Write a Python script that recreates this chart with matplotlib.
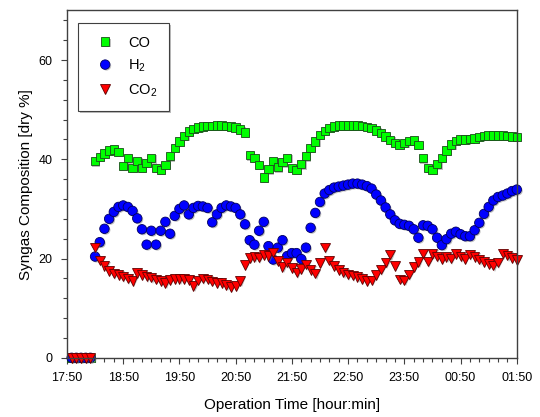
"""
Syngas composition (CO, H2, CO2) vs operation time
"""
import numpy as np
import matplotlib
matplotlib.use("Agg")
import matplotlib.pyplot as plt
import matplotlib.patheffects as pe
from matplotlib.ticker import MultipleLocator

plt.rcParams["font.family"] = ["Liberation Sans", "DejaVu Sans"]
plt.rcParams["mathtext.default"] = "regular"

# time in minutes after 17:50, one sample every 5 min
zero_times = [5, 10, 15, 20, 25]
t_start, t_step = 30, 5

co = [39.6, 40.5, 41.2, 41.8, 42.0, 41.5, 38.7, 40.2, 38.3, 39.7,
      38.3, 39.3, 40.2, 38.3, 37.9, 38.9, 40.6, 42.3, 43.6, 44.7,
      45.6, 46.1, 46.4, 46.6, 46.7, 46.7, 46.8, 46.8, 46.7, 46.6,
      46.4, 46.0, 45.4, 40.8, 40.3, 38.9, 36.3, 38.0, 39.6, 38.4,
      39.4, 40.3, 38.3, 37.9, 39.0, 40.6, 42.3, 43.6, 44.9, 45.7,
      46.3, 46.6, 46.8, 46.8, 46.8, 46.8, 46.8, 46.7, 46.5, 46.3,
      45.8, 45.3, 44.6, 43.9, 43.3, 42.9, 43.3, 43.7, 43.8, 42.9,
      40.2, 38.3, 37.9, 39.0, 40.3, 41.8, 43.0, 43.7, 44.0, 44.0,
      44.1, 44.2, 44.5, 44.7, 44.8, 44.8, 44.8, 44.8, 44.7, 44.6,
      44.5]

h2 = [20.4, 23.3, 26.0, 28.0, 29.4, 30.4, 30.7, 30.4, 29.6, 28.1,
      25.9, 22.8, 25.6, 22.8, 25.6, 27.4, 25.0, 28.6, 30.0, 30.7,
      28.9, 30.2, 30.6, 30.5, 30.2, 27.3, 28.9, 30.2, 30.7, 30.5,
      30.2, 28.9, 26.9, 23.7, 22.8, 25.6, 27.4, 22.5, 19.8, 22.2,
      23.7, 20.5, 21.1, 21.1, 19.9, 22.2, 26.2, 29.2, 31.4, 33.1,
      33.8, 34.3, 34.5, 34.7, 34.9, 35.1, 35.1, 34.9, 34.6, 34.1,
      32.9, 31.7, 30.3, 28.9, 27.7, 27.0, 26.8, 26.6, 25.9, 24.2,
      26.7, 26.6, 25.9, 24.2, 22.7, 23.9, 25.0, 25.4, 24.9, 24.5,
      24.5, 25.7, 27.2, 29.0, 30.4, 31.7, 32.4, 32.7, 33.1, 33.6,
      33.9]

co2 = [22.2, 19.6, 18.5, 17.5, 17.0, 16.7, 16.4, 16.0, 15.5, 17.1,
       16.7, 16.4, 16.2, 15.8, 15.5, 15.1, 15.7, 15.9, 15.9, 15.9,
       15.7, 14.5, 15.6, 16.0, 15.8, 15.4, 15.1, 15.0, 14.6, 14.3,
       14.5, 15.5, 18.7, 20.1, 20.3, 20.2, 20.7, 20.5, 21.2, 19.5,
       18.3, 19.2, 18.1, 17.2, 17.9, 18.8, 17.7, 17.0, 19.1, 22.2,
       19.6, 18.5, 17.7, 17.2, 16.8, 16.6, 16.3, 15.9, 15.5, 15.6,
       16.7, 17.8, 19.2, 20.8, 18.5, 15.8, 15.6, 16.8, 18.3, 19.3,
       21.0, 19.4, 20.9, 20.4, 19.9, 20.3, 20.0, 20.9, 20.4, 19.9,
       20.8, 20.3, 19.8, 19.3, 18.9, 18.6, 19.2, 21.0, 20.6, 20.1,
       19.7]

tick_labels = ["17:50", "18:50", "19:50", "20:50", "21:50",
               "22:50", "23:50", "00:50", "01:50"]


def main():
    t = t_start + t_step * np.arange(len(co))
    t_all = np.concatenate([zero_times, t])
    zeros = [0.0] * len(zero_times)

    fig = plt.figure(figsize=(5.4, 4.17), dpi=100)
    ax = fig.add_axes([0.124, 0.142, 0.833, 0.833])

    shadow = [pe.SimplePatchShadow(offset=(0.9, -0.9), shadow_rgbFace="#808080",
                                   alpha=0.5), pe.Normal()]
    series = [
        ("CO", co, "s", "#00ff00", "#1a4d1a", 6.0),
        ("H$_2$", h2, "o", "#0000ff", "#000060", 6.8),
        ("CO$_2$", co2, "v", "#ff0000", "#600000", 7.0),
    ]
    for label, vals, marker, fc, ec, ms in series:
        ax.plot(t_all, zeros + list(vals), linestyle="none", marker=marker,
                markersize=ms, markerfacecolor=fc, markeredgecolor=ec,
                markeredgewidth=0.6, label=label, clip_on=False,
                path_effects=shadow)

    ax.set_xlim(0, 480)
    ax.set_ylim(0, 70)
    ax.set_xticks(np.arange(0, 481, 60))
    ax.set_xticklabels(tick_labels)
    ax.xaxis.set_minor_locator(MultipleLocator(10))
    ax.set_yticks([0, 20, 40, 60])
    ax.yaxis.set_minor_locator(MultipleLocator(4))

    ax.tick_params(which="both", direction="out", top=False, right=False,
                   labelsize=9, color="#404040")
    ax.tick_params(which="major", length=4.5, width=0.8, pad=6)
    ax.tick_params(which="minor", length=3, width=0.8)
    for sp in ax.spines.values():
        sp.set_color("#404040")
        sp.set_linewidth(1.0)

    ax.set_xlabel("Operation Time [hour:min]", fontsize=11, labelpad=10)
    ax.set_ylabel("Syngas Composition [dry %]", fontsize=11, labelpad=4)

    leg = ax.legend(loc="upper left", bbox_to_anchor=(0.025, 0.963),
                    borderaxespad=0, numpoints=1, fontsize=10.5,
                    handlelength=2.0, handletextpad=0.55, borderpad=0.85,
                    labelspacing=0.55, fancybox=False, framealpha=1,
                    edgecolor="#404040",
                    shadow={"ox": 1.2, "oy": -1.2, "facecolor": "#909090",
                            "edgecolor": "none", "alpha": 0.6})
    leg.get_frame().set_linewidth(0.8)

    fig.savefig("out.png", dpi=100)
    plt.close(fig)


if __name__ == "__main__":
    main()
